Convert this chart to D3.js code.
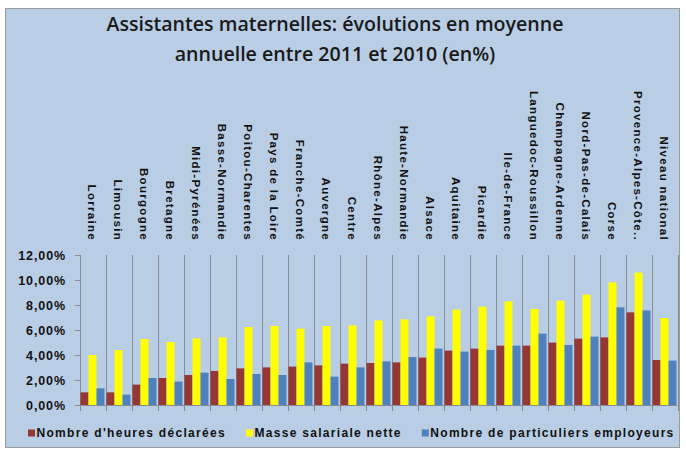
<html>
<head>
<meta charset="utf-8">
<script src="https://d3js.org/d3.v7.min.js"></script>
<style>
  body { margin: 0; background: #fff; }
  svg { display: block; }
  .cat { font-family: "Liberation Sans", Arial, sans-serif; font-weight: bold; font-size: 11.5px; letter-spacing: 1.3px; fill: #111; }
  .ylab text { font-family: "Liberation Sans", Arial, sans-serif; font-weight: bold; font-size: 12.5px; letter-spacing: 0.9px; fill: #111; }
  .leg { font-family: "Liberation Sans", Arial, sans-serif; font-weight: bold; font-size: 12px; letter-spacing: 1.3px; fill: #111; }
  .title { font-family: "Open Sans", sans-serif; font-weight: 600; font-size: 19.6px; fill: #1a1a1a; }
</style>
</head>
<body>
<div id="chart"></div>
<script>
// data
var titleLines = ["Assistantes maternelles: évolutions en moyenne", "annuelle entre 2011 et 2010 (en%)"];
var categories = ["Lorraine", "Limousin", "Bourgogne", "Bretagne", "Midi-Pyrénées", "Basse-Normandie",
  "Poitou-Charentes", "Pays de la Loire", "Franche-Comté", "Auvergne", "Centre", "Rhône-Alpes",
  "Haute-Normandie", "Alsace", "Aquitaine", "Picardie", "Ile-de-France", "Languedoc-Roussillon",
  "Champagne-Ardenne", "Nord-Pas-de-Calais", "Corse", "Provence-Alpes-Côte..", "Niveau national"];
var heures = [1.01, 1.01, 1.63, 2.16, 2.40, 2.72, 2.93, 3.01, 3.07, 3.17, 3.31, 3.36,
  3.41, 3.79, 4.35, 4.51, 4.75, 4.75, 4.99, 5.31, 5.41, 7.41, 3.60];
var masse = [4.00, 4.40, 5.28, 5.04, 5.33, 5.41, 6.24, 6.32, 6.11, 6.32, 6.37, 6.77,
  6.85, 7.09, 7.63, 7.87, 8.29, 7.68, 8.35, 8.83, 9.81, 10.59, 6.96];
var particuliers = [1.33, 0.83, 2.16, 1.87, 2.59, 2.08, 2.48, 2.40, 3.41, 2.27, 3.01, 3.49,
  3.84, 4.51, 4.27, 4.40, 4.75, 5.71, 4.80, 5.47, 7.81, 7.57, 3.55];
var seriesNames = ["Nombre d'heures déclarées", "Masse salariale nette", "Nombre de particuliers employeurs"];
var yTicks = [0, 2, 4, 6, 8, 10, 12];

var colors = ["#953735", "#ffff00", "#4f81bd"];
var gridColor = "#878c94";

var W = 686, H = 452;
var svg = d3.select("#chart").append("svg").attr("width", W).attr("height", H);

// frame
svg.append("rect").attr("x", 5.5).attr("y", 8.5).attr("width", 674).attr("height", 439)
  .attr("fill", "#b9cde5").attr("stroke", "#9a9a9a");

// title
svg.selectAll("text.title").data(titleLines).enter().append("text")
  .attr("class", "title")
  .attr("x", 335).attr("y", function(d, i) { return 31 + i * 30; })
  .attr("text-anchor", "middle")
  .text(function(d) { return d; });

var x = d3.scaleBand().domain(categories).range([79.5, 677.5]).padding(0);
var xs = d3.scaleBand().domain([0, 1, 2]).range([1, x.bandwidth() - 1]).padding(0);
var y = d3.scaleLinear().domain([0, 12]).range([405, 255]);

// category separators
var bounds = categories.map(function(c) { return x(c); }).concat([x.range()[1]]);
svg.selectAll("line.sep").data(bounds).enter().append("line")
  .attr("x1", function(d) { return Math.round(d) + 0.5; })
  .attr("x2", function(d) { return Math.round(d) + 0.5; })
  .attr("y1", y(12)).attr("y2", y(0) + 6)
  .attr("stroke", gridColor).attr("stroke-width", 1);

// bars
var series = [heures, masse, particuliers];
series.forEach(function(vals, si) {
  svg.append("g").selectAll("rect").data(vals).enter().append("rect")
    .attr("x", function(d, i) { return x(categories[i]) + xs(si); })
    .attr("y", function(d) { return y(d); })
    .attr("width", xs.bandwidth())
    .attr("height", function(d) { return y(0) - y(d); })
    .attr("fill", colors[si]);
});

// baseline
svg.append("line").attr("x1", x.range()[0]).attr("x2", x.range()[1])
  .attr("y1", y(0) + 0.5).attr("y2", y(0) + 0.5).attr("stroke", gridColor);

// y axis
var yAxis = d3.axisLeft(y).tickValues(yTicks).tickSize(5).tickSizeOuter(0).tickPadding(9)
  .tickFormat(function(d) { return d.toFixed(2).replace(".", ",") + "%"; });
var yg = svg.append("g").attr("class", "ylab").attr("transform", "translate(80,0)").call(yAxis);
yg.select(".domain").remove();
yg.selectAll(".tick line").attr("stroke", gridColor);

// category labels
svg.selectAll("text.cat").data(categories).enter().append("text")
  .attr("class", "cat")
  .attr("transform", function(d) { return "translate(" + (x(d) + x.bandwidth() / 2) + ",241) rotate(90)"; })
  .attr("text-anchor", "end")
  .attr("dy", "0.36em")
  .text(function(d) { return d; });

// legend
var lx = 28;
seriesNames.forEach(function(name, i) {
  var g = svg.append("g").attr("transform", "translate(" + lx + ",433)");
  g.append("rect").attr("x", 0).attr("y", -3.5).attr("width", 7).attr("height", 7).attr("fill", colors[i]);
  var t = g.append("text").attr("class", "leg").attr("x", 8.5).attr("dy", "0.36em").text(name);
  lx += 8.5 + t.node().getComputedTextLength() + 20;
});
</script>
</body>
</html>
